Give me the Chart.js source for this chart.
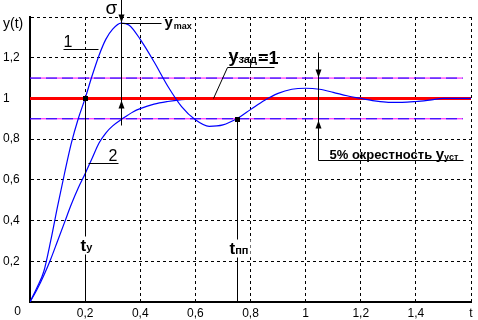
<!DOCTYPE html>
<html>
<head>
<meta charset="utf-8">
<script src="https://cdn.jsdelivr.net/npm/chart.js@4.4.1/dist/chart.umd.min.js"></script>
<style>
  html, body { margin: 0; padding: 0; background: #fff; }
</style>
</head>
<body>
<canvas id="myChart" width="478" height="320"></canvas>
<script>
// curve 1 - oscillating response
var t1 = [0, 0.025, 0.05, 0.075, 0.1, 0.125, 0.15, 0.175, 0.2, 0.225, 0.25, 0.275, 0.3, 0.33, 0.36,
          0.4, 0.45, 0.5, 0.55, 0.6, 0.65, 0.7, 0.75, 0.8, 0.85, 0.9, 0.95, 1.0,
          1.05, 1.1, 1.15, 1.2, 1.25, 1.3, 1.35, 1.4, 1.45, 1.5, 1.6];
var y1 = [0, 0.07, 0.15, 0.3, 0.47, 0.63, 0.78, 0.9, 1.0, 1.11, 1.21, 1.29, 1.34, 1.37, 1.36,
          1.29, 1.18, 1.06, 0.96, 0.895, 0.863, 0.87, 0.9, 0.945, 0.99, 1.025, 1.045, 1.05,
          1.045, 1.03, 1.013, 1.0, 0.988, 0.981, 0.981, 0.985, 0.992, 1.0, 1.0];

// curve 2 - aperiodic response
var t2 = [0, 0.025, 0.05, 0.075, 0.1, 0.125, 0.15, 0.175, 0.2, 0.225, 0.25, 0.275, 0.3, 0.335, 0.375, 0.4, 0.45, 0.5, 0.55, 0.6];
var y2 = [0, 0.06, 0.13, 0.21, 0.3, 0.39, 0.48, 0.56, 0.63, 0.705, 0.78, 0.83, 0.865, 0.9, 0.935, 0.95, 0.972, 0.985, 0.994, 1.0];

// reference levels
var setT = [0, 1.6];
var setY = [1, 1];
var bandT = [0, 1.57];
var bandHi = [1.1, 1.1];
var bandLo = [0.9, 0.9];

// marks on the picture (data units)
var tSigma = 0.33, yMax = 1.37;
var tY = 0.2, tPP = 0.75, t5 = 1.044;

function pts(xs, ys) {
  var out = [];
  for (var i = 0; i < xs.length; i++) out.push({x: xs[i], y: ys[i]});
  return out;
}

function fmt(v) {
  return String(Math.round(v * 10) / 10).replace('.', ',');
}

var FONT = 'Arial, "Liberation Sans", sans-serif';

var notes = {
  id: 'notes',
  afterDatasetsDraw: function(chart) {
    var ctx = chart.ctx, xs = chart.scales.x, ys = chart.scales.y;
    var X = function(v) { return Math.round(xs.getPixelForValue(v)) + 0.5; };
    var Y = function(v) { return Math.round(ys.getPixelForValue(v)) + 0.5; };
    ctx.save();
    ctx.strokeStyle = '#000';
    ctx.fillStyle = '#000';
    ctx.lineWidth = 1;
    ctx.setLineDash([]);
    function line(a, b, c, d) { ctx.beginPath(); ctx.moveTo(a, b); ctx.lineTo(c, d); ctx.stroke(); }
    function arrow(x, tip, dir) {
      ctx.beginPath();
      ctx.moveTo(x, tip);
      ctx.lineTo(x - 3, tip - dir * 8);
      ctx.lineTo(x + 3, tip - dir * 8);
      ctx.closePath();
      ctx.fill();
    }
    function text(s, x, y, size, bold, align) {
      ctx.font = (bold ? 'bold ' : '') + size + 'px ' + FONT;
      ctx.textAlign = align || 'left';
      ctx.textBaseline = 'alphabetic';
      ctx.fillText(s, x, y);
      return ctx.measureText(s).width;
    }

    // sigma
    var xs1 = X(tSigma);
    line(xs1, 0, xs1, Y(0.868));
    arrow(xs1, Y(yMax) - 1, 1);
    arrow(xs1, Y(1) + 2, -1);
    text('\u03c3', xs1 - 16, 14, 19, false);
    line(xs1, Y(yMax), X(0.475), Y(yMax));
    var w = text('y', X(0.485), Y(yMax) + 3, 15, true);
    text('max', X(0.485) + w + 1, Y(yMax) + 5, 9, true);

    // curve labels
    line(X(0.12), Y(1.245), X(0.247), Y(1.245));
    text('1', X(0.12), Y(1.245) - 3, 16, false);
    line(X(0.21), Y(0.681), X(0.32), Y(0.681));
    text('2', X(0.32) - 1, Y(0.681) - 3, 16, false, 'right');

    // set value
    line(X(0.665), Y(1), X(0.716), Y(1.152));
    line(X(0.716), Y(1.152), X(0.884), Y(1.152));
    var xx = X(0.716) + 1;
    xx += text('y', xx, Y(1.152) - 6, 18, true);
    xx += text('\u0437\u0430\u0434', xx, Y(1.152) - 5, 11, true);
    text('=1', xx + 1, Y(1.152) - 4, 18, true);

    // 5% band
    var x5 = X(t5);
    line(x5, Y(1.23), x5, Y(0.70));
    arrow(x5, Y(1.1) - 1, 1);
    arrow(x5, Y(0.9) + 1, -1);
    line(x5, Y(0.70), X(1.571), Y(0.70));
    xx = x5 + 11;
    xx += text('5% \u043e\u043a\u0440\u0435\u0441\u0442\u043d\u043e\u0441\u0442\u044c ', xx, Y(0.70) - 2, 13, true);
    xx += text('y', xx, Y(0.70) - 2, 15, true);
    text('\u0443\u0441\u0442', xx, Y(0.70) - 1, 9, true);

    // t_y and t_pp
    [[tY, 1.0, 't', 'y', 5, 0.255], [tPP, 0.9, 't', '\u043f\u043f', 8, 0.24]].forEach(function(m) {
      var xv = X(m[0]);
      line(xv, Y(m[1]), xv, Y(0));
      ctx.fillRect(xv - 2.5, Y(m[1]) - 2.5, 5, 5);
      var bx = xv - m[4];
      var by = Y(m[5]);
      ctx.font = 'bold 17px ' + FONT;
      var tw = ctx.measureText(m[2]).width;
      ctx.font = 'bold 11px ' + FONT;
      var sw = ctx.measureText(m[3]).width;
      ctx.fillStyle = '#fff';
      ctx.fillRect(bx - 1, by - 14, tw + sw + 3, 18);
      ctx.fillStyle = '#000';
      text(m[2], bx, by, 17, true);
      text(m[3], bx + tw, by, 11, true);
    });

    // axis corner labels
    text('0', X(0) - 13, chart.chartArea.bottom + 13, 12, false, 'center');
    ctx.textBaseline = 'middle';
    ctx.font = '14px ' + FONT;
    ctx.textAlign = 'left';
    ctx.fillText('y(t)', 3, Y(1.4) + 7);
    ctx.restore();
  }
};

var ctx = document.getElementById('myChart');
new Chart(ctx, {
  type: 'line',
  data: {
    datasets: [
      {data: pts(t1, y1), borderColor: '#0000ff', borderWidth: 1.2, pointRadius: 0, cubicInterpolationMode: 'monotone', order: 0},
      {data: pts(setT, setY), borderColor: '#ff0000', borderWidth: 3, pointRadius: 0, order: 1},
      {data: pts(t2, y2), borderColor: '#0000ff', borderWidth: 1.2, pointRadius: 0, cubicInterpolationMode: 'monotone', order: 2},
      {data: pts(bandT, bandHi), borderColor: '#0000ff', borderWidth: 1, borderDash: [11, 5], pointRadius: 0, order: 3},
      {data: pts(bandT, bandHi), borderColor: '#ff00ff', borderWidth: 1, pointRadius: 0, order: 4},
      {data: pts(bandT, bandLo), borderColor: '#0000ff', borderWidth: 1, borderDash: [11, 5], pointRadius: 0, order: 3},
      {data: pts(bandT, bandLo), borderColor: '#ff00ff', borderWidth: 1, pointRadius: 0, order: 4}
    ]
  },
  options: {
    responsive: false,
    animation: false,
    layout: {padding: {left: 3, right: 7, top: 17, bottom: 0}},
    plugins: {legend: {display: false}, tooltip: {enabled: false}},
    scales: {
      x: {
        type: 'linear', min: 0, max: 1.6,
        afterFit: function(s) { s.height = 18; },
        ticks: {
          stepSize: 0.2, color: '#000', padding: 4, maxRotation: 0,
          font: {family: FONT, size: 12},
          callback: function(v) {
            if (Math.abs(v) < 1e-6) return '';
            if (Math.abs(v - 1.6) < 1e-6) return 't';
            return fmt(v);
          }
        },
        grid: {color: '#000', lineWidth: 1, drawTicks: false},
        border: {display: true, color: '#000', width: 2, dash: [3, 3]}
      },
      y: {
        min: 0, max: 1.4,
        afterFit: function(s) { s.width = 27; },
        ticks: {
          stepSize: 0.2, color: '#000', crossAlign: 'far',
          font: {family: FONT, size: 12},
          callback: function(v) {
            if (Math.abs(v) < 1e-6 || Math.abs(v - 1.4) < 1e-6) return '';
            return fmt(v);
          }
        },
        grid: {color: '#000', lineWidth: 1, drawTicks: false},
        border: {display: true, color: '#000', width: 2, dash: [3, 3]}
      }
    }
  },
  plugins: [notes]
});
</script>
</body>
</html>
